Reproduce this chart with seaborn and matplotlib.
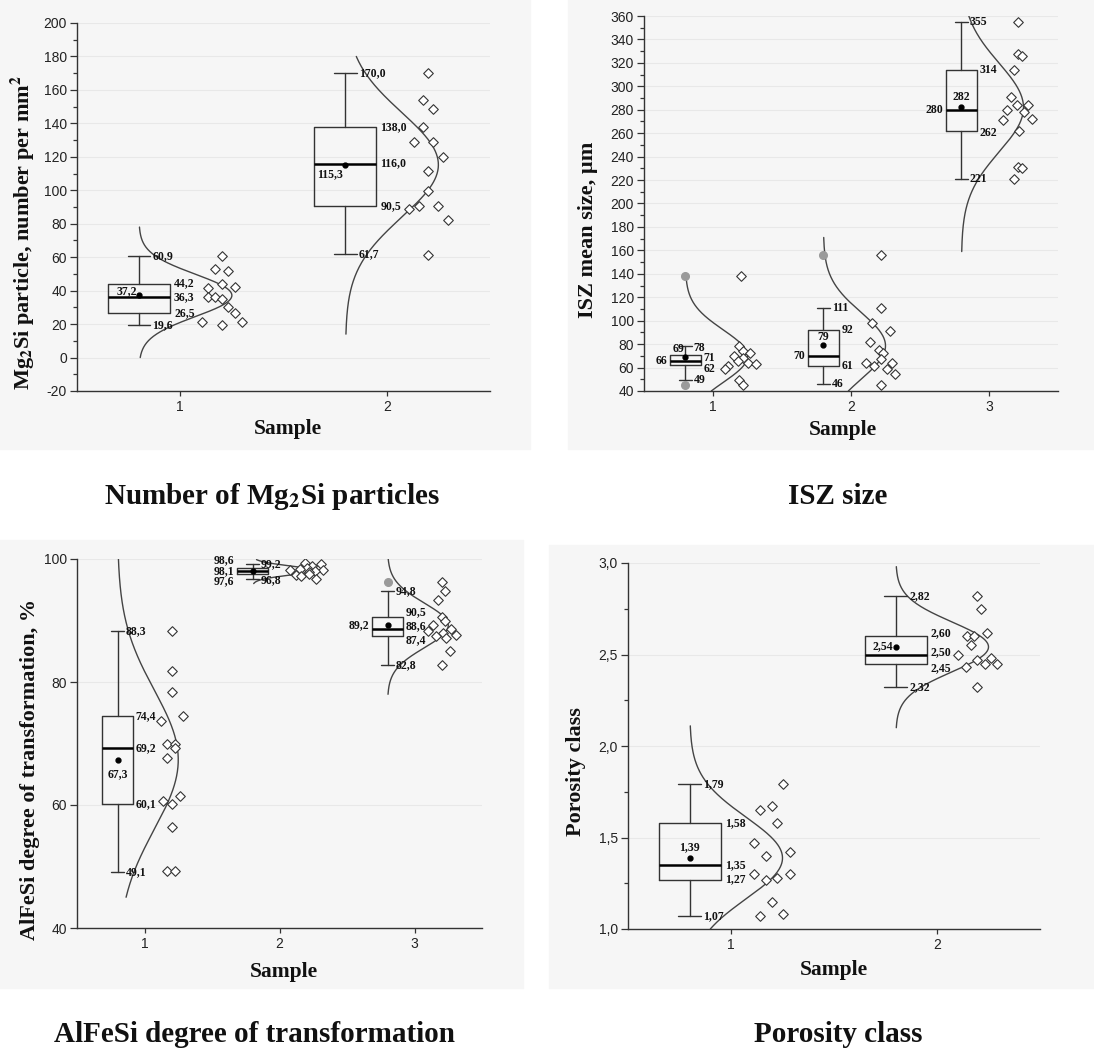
import numpy as np
import matplotlib
matplotlib.use("Agg")
import matplotlib.pyplot as plt
import seaborn as sns
from matplotlib.patches import Rectangle
from matplotlib.ticker import MultipleLocator, FuncFormatter

sns.set_theme(style="white")
plt.rcParams["font.family"] = ["Liberation Sans", "DejaVu Sans"]
plt.rcParams["mathtext.fontset"] = "stix"
SERIF = ["Liberation Serif", "DejaVu Serif"]

# ---------------- data ----------------
# Mg2Si particles
mg_samples = [1, 2]
mg_points = [
    [60.9, 53.1, 51.7, 43.9, 42.3, 41.4, 36.2, 36.2, 35.2, 30.4, 26.4, 21.5, 21.5, 19.5],
    [170.0, 154.1, 148.7, 137.8, 129.0, 129.0, 119.9, 111.7, 99.6, 90.5, 90.5, 88.7, 82.1, 61.6],
]
mg_jitter = [
    [0.20, 0.167, 0.233, 0.20, 0.266, 0.134, 0.134, 0.167, 0.20, 0.233, 0.266, 0.103, 0.298, 0.20],
    [0.20, 0.177, 0.225, 0.177, 0.131, 0.225, 0.27, 0.20, 0.20, 0.248, 0.156, 0.11, 0.295, 0.20],
]
mg_whislo = [19.6, 61.7]
mg_q1 = [26.5, 90.5]
mg_med = [36.3, 116.0]
mg_q3 = [44.2, 138.0]
mg_whishi = [60.9, 170.0]
mg_mean = [37.2, 115.3]
mg_outliers = [[], []]
mg_curve = [(0, 78), (14, 180)]

# ISZ size
isz_samples = [1, 2, 3]
isz_points = [
    [138, 78, 74, 72, 70, 68, 66, 64, 63, 61, 59, 49, 45],
    [156, 111, 98, 91.5, 81.4, 75.1, 72.2, 67.3, 63.6, 63.6, 61.6, 58.7, 54.4, 45.5],
    [355, 327.6, 326.1, 314.3, 291.2, 284, 284, 280.2, 278.2, 272.4, 271.5, 261.7, 231.1, 230, 221],
]
isz_jitter = [
    [0.20, 0.19, 0.22, 0.27, 0.15, 0.22, 0.18, 0.25, 0.31, 0.11, 0.09, 0.19, 0.22],
    [0.22, 0.22, 0.15, 0.28, 0.14, 0.20, 0.235, 0.215, 0.11, 0.30, 0.17, 0.26, 0.32, 0.22],
    [0.21, 0.21, 0.24, 0.18, 0.16, 0.20, 0.28, 0.13, 0.25, 0.31, 0.10, 0.22, 0.21, 0.24, 0.18],
]
isz_whislo = [49, 46, 221]
isz_q1 = [62, 61, 262]
isz_med = [66, 70, 280]
isz_q3 = [71, 92, 314]
isz_whishi = [78, 111, 355]
isz_mean = [69, 79, 282]
isz_outliers = [[138, 45], [156], []]
isz_curve = [(40, 138), (40, 171), (159, 360)]

# AlFeSi degree of transformation
af_samples = [1, 2, 3]
af_points = [
    [88.3, 81.8, 78.4, 74.5, 73.6, 70.0, 70.0, 69.2, 67.6, 61.4, 60.6, 60.2, 56.4, 49.2, 49.2],
    [99.3, 99.2, 98.9, 98.6, 98.4, 98.2, 98.2, 98.0, 97.9, 97.6, 97.4, 97.2, 96.8],
    [96.2, 94.8, 93.4, 90.5, 89.9, 89.2, 88.6, 88.3, 87.9, 87.6, 87.4, 87.2, 85.0, 82.8],
]
af_jitter = [
    [0.20, 0.20, 0.20, 0.285, 0.12, 0.17, 0.225, 0.225, 0.17, 0.26, 0.14, 0.20, 0.20, 0.17, 0.225],
    [0.19, 0.31, 0.24, 0.20, 0.15, 0.08, 0.32, 0.26, 0.22, 0.22, 0.12, 0.16, 0.27],
    [0.20, 0.225, 0.175, 0.20, 0.225, 0.14, 0.27, 0.10, 0.21, 0.305, 0.16, 0.23, 0.26, 0.20],
]
af_whislo = [49.1, 96.8, 82.8]
af_q1 = [60.1, 97.6, 87.4]
af_med = [69.2, 98.1, 88.6]
af_q3 = [74.4, 98.6, 90.5]
af_whishi = [88.3, 99.2, 94.8]
af_mean = [67.3, 98.1, 89.2]
af_outliers = [[], [], [96.2]]
af_curve = [(45, 100), (96.0, 99.9), (78, 100)]

# Porosity class
por_samples = [1, 2]
por_points = [
    [1.79, 1.65, 1.67, 1.58, 1.47, 1.40, 1.42, 1.30, 1.30, 1.27, 1.28, 1.15, 1.07, 1.08],
    [2.82, 2.75, 2.62, 2.60, 2.60, 2.55, 2.50, 2.48, 2.47, 2.45, 2.45, 2.43, 2.32],
]
por_jitter = [
    [0.254, 0.14, 0.197, 0.225, 0.11, 0.168, 0.284, 0.11, 0.284, 0.168, 0.225, 0.197, 0.14, 0.254],
    [0.193, 0.213, 0.244, 0.146, 0.18, 0.163, 0.104, 0.26, 0.193, 0.235, 0.291, 0.14, 0.193],
]
por_whislo = [1.07, 2.32]
por_q1 = [1.27, 2.45]
por_med = [1.35, 2.50]
por_q3 = [1.58, 2.60]
por_whishi = [1.79, 2.82]
por_mean = [1.39, 2.54]
por_outliers = [[], []]
por_curve = [(1.0, 2.11), (2.10, 2.98)]

# ---------------- figure ----------------
W, H = 1094, 1055
fig = plt.figure(figsize=(W / 100, H / 100), dpi=100)
fig.patch.set_facecolor("white")


def px_axes(x0, x1, y0, y1):
    return fig.add_axes([x0 / W, 1 - y1 / H, (x1 - x0) / W, (y1 - y0) / H])


# light grey panel backgrounds
for x0, x1, y0, y1 in [(0, 530, 0, 449), (568, 1094, 0, 449), (0, 523, 540, 988), (549, 1094, 545, 988)]:
    fig.add_artist(Rectangle((x0 / W, 1 - y1 / H), (x1 - x0) / W, (y1 - y0) / H,
                             transform=fig.transFigure, color="#f6f6f6", zorder=-5))


def fmt(v, nd):
    return f"{v:.{nd}f}".replace(".", ",")


def note(ax, x, y, v, nd, ha="left"):
    ax.text(x, y, fmt(v, nd), ha=ha, va="center", fontsize=8.5, fontweight="bold",
            family=SERIF, color="#111", zorder=6)


def draw_panel(ax, samples, points, jitter, lo, q1, med, q3, hi, means, outliers, curve, box_w, cap_w):
    for i, s in enumerate(samples):
        base = s - 0.2
        stats = [dict(whislo=lo[i], q1=q1[i], med=med[i], q3=q3[i], whishi=hi[i],
                      mean=means[i], fliers=outliers[i])]
        ax.bxp(stats, positions=[base], widths=box_w, capwidths=[cap_w], showmeans=True,
               boxprops=dict(color="#333", lw=1.0),
               whiskerprops=dict(color="#333", lw=1.0),
               capprops=dict(color="#333", lw=1.0),
               medianprops=dict(color="black", lw=1.8),
               meanprops=dict(marker="o", mfc="black", mec="black", ms=3.5),
               flierprops=dict(marker="o", mfc="#9a9a9a", mec="#9a9a9a", ms=5.5),
               manage_ticks=False, zorder=4)
        # normal curve fitted to the sample points
        vals = np.asarray(points[i], dtype=float)
        mu, sd = vals.mean(), vals.std(ddof=1)
        yy = np.linspace(curve[i][0], curve[i][1], 300)
        xx = base + 0.45 * np.exp(-0.5 * ((yy - mu) / sd) ** 2)
        sns.lineplot(x=xx, y=yy, sort=False, estimator=None, color="#444", lw=1.0, ax=ax, zorder=2)
        sns.scatterplot(x=s + np.asarray(jitter[i]), y=vals, marker="D", s=24, color="white",
                        edgecolor="#333", linewidth=0.8, ax=ax, zorder=3)


def box_notes(ax, s, nd, vals, box_w, cap_w, dy=None, left=(), mean_spec=None):
    base = s - 0.2
    dy = dy or {}
    xr_box = base + box_w / 2 + 0.02
    xr_cap = base + cap_w / 2 + 0.01
    xl_box = base - box_w / 2 - 0.02
    for key in ["whishi", "q3", "med", "q1", "whislo"]:
        v = vals[key]
        y = v + dy.get(key, 0)
        if key in left:
            note(ax, xl_box, y, v, nd, ha="right")
        elif key in ("whishi", "whislo"):
            note(ax, xr_cap, y, v, nd)
        else:
            note(ax, xr_box, y, v, nd)
    if mean_spec is not None:
        ha, dx, dyy = mean_spec
        note(ax, base + dx, vals["mean"] + dyy, vals["mean"], nd, ha=ha)


def style(ax, samples, ylim, major, minor, yfmt, ylabel, ylab_xy, xlab_xy):
    ax.set_facecolor("none")
    ax.set_xlim(samples[0] - 0.5, samples[-1] + 0.5)
    ax.set_ylim(*ylim)
    ax.set_xticks(samples)
    ax.set_xticklabels([str(s) for s in samples])
    ax.yaxis.set_major_locator(MultipleLocator(major))
    if minor:
        ax.yaxis.set_minor_locator(MultipleLocator(minor))
    ax.yaxis.set_major_formatter(FuncFormatter(yfmt))
    for side in ["top", "right"]:
        ax.spines[side].set_visible(False)
    for side in ["left", "bottom"]:
        ax.spines[side].set_color("#333")
        ax.spines[side].set_linewidth(1.0)
    ax.tick_params(axis="y", which="major", direction="out", length=4.8, width=0.9, color="#333",
                   labelsize=10, labelcolor="#222", pad=2.5, left=True)
    ax.tick_params(axis="y", which="minor", direction="out", length=2.9, width=0.9, color="#333", left=True)
    ax.tick_params(axis="x", direction="out", length=3.6, width=0.9, color="#333",
                   labelsize=10, labelcolor="#222", pad=3, bottom=True)
    ax.grid(axis="y", which="major", color="#e8e8e8", lw=0.8)
    ax.set_axisbelow(True)
    ax.set_ylabel(ylabel, fontsize=16, fontweight="bold", family=SERIF, color="#111")
    ax.yaxis.set_label_coords(*ylab_xy)
    ax.yaxis.label.set_va("center")
    ax.set_xlabel("Sample", fontsize=15.5, fontweight="bold", family=SERIF, color="#111")
    ax.xaxis.set_label_coords(*xlab_xy)
    ax.xaxis.label.set_va("center")


def stat(lo, q1, med, q3, hi, mean, i):
    return dict(whislo=lo[i], q1=q1[i], med=med[i], q3=q3[i], whishi=hi[i], mean=mean[i])


int_fmt = lambda v, p: f"{v:.0f}"
dec_fmt = lambda v, p: f"{v:.1f}".replace(".", ",")

# ---- panel 1: Mg2Si particles ----
ax1 = px_axes(77, 490, 23, 391)
draw_panel(ax1, mg_samples, mg_points, mg_jitter, mg_whislo, mg_q1, mg_med, mg_q3, mg_whishi,
           mg_mean, mg_outliers, mg_curve, 0.30, 0.11)
style(ax1, mg_samples, (-20, 200), 20, 10, int_fmt,
      r"Mg$_\mathbf{2}$Si particle, number per mm$^\mathbf{2}$", (-0.132, 0.43), (0.51, -0.103))
mean_specs = [("right", -0.01, 2.6), ("right", -0.012, -5.5)]
for i, s in enumerate(mg_samples):
    box_notes(ax1, s, 1, stat(mg_whislo, mg_q1, mg_med, mg_q3, mg_whishi, mg_mean, i), 0.30, 0.11,
              mean_spec=mean_specs[i])

# ---- panel 2: ISZ size ----
ax2 = px_axes(644, 1058, 16, 391)
draw_panel(ax2, isz_samples, isz_points, isz_jitter, isz_whislo, isz_q1, isz_med, isz_q3, isz_whishi,
           isz_mean, isz_outliers, isz_curve, 0.225, 0.10)
style(ax2, isz_samples, (40, 360), 20, 10, int_fmt, "ISZ mean size, µm", (-0.135, 0.43), (0.48, -0.103))
isz_notes = [
    dict(dy={"q3": -2.5, "q1": -3.5, "whishi": -1}, left=("med",), mean_spec=("right", -0.01, 7)),
    dict(dy={}, left=("med",), mean_spec=("center", 0, 7)),
    dict(dy={"q1": -2}, left=("med",), mean_spec=("center", 0, 9)),
]
for i, s in enumerate(isz_samples):
    box_notes(ax2, s, 0, stat(isz_whislo, isz_q1, isz_med, isz_q3, isz_whishi, isz_mean, i), 0.225, 0.10,
              **isz_notes[i])

# ---- panel 3: AlFeSi ----
ax3 = px_axes(77, 482, 559, 928)
draw_panel(ax3, af_samples, af_points, af_jitter, af_whislo, af_q1, af_med, af_q3, af_whishi,
           af_mean, af_outliers, af_curve, 0.225, 0.10)
style(ax3, af_samples, (40, 100), 20, None, int_fmt, "AlFeSi degree of transformation, %",
      (-0.117, 0.43), (0.51, -0.12))
af_notes = [
    dict(dy={}, left=(), mean_spec=("center", 0, -2.3)),
    dict(dy={"q3": 1.2, "q1": -1.2, "whislo": -0.2}, left=("q3", "med", "q1"), mean_spec=None),
    dict(dy={"q3": 0.8, "med": 0.4, "q1": -0.6}, left=(), mean_spec=("right", -0.225 / 2 - 0.02, 0)),
]
for i, s in enumerate(af_samples):
    box_notes(ax3, s, 1, stat(af_whislo, af_q1, af_med, af_q3, af_whishi, af_mean, i), 0.225, 0.10,
              **af_notes[i])

# ---- panel 4: Porosity ----
ax4 = px_axes(628, 1040, 563, 929)
draw_panel(ax4, por_samples, por_points, por_jitter, por_whislo, por_q1, por_med, por_q3, por_whishi,
           por_mean, por_outliers, por_curve, 0.30, 0.11)
style(ax4, por_samples, (1.0, 3.0), 0.5, 0.25, dec_fmt, "Porosity class", (-0.126, 0.43), (0.5, -0.112))
por_notes = [
    dict(dy={}, mean_spec=("center", 0, 0.055)),
    dict(dy={"q3": 0.015, "med": 0.012, "q1": -0.022}, mean_spec=("right", -0.012, 0.005)),
]
for i, s in enumerate(por_samples):
    box_notes(ax4, s, 2, stat(por_whislo, por_q1, por_med, por_q3, por_whishi, por_mean, i), 0.30, 0.11,
              **por_notes[i])

# ---- captions ----
cap_kw = dict(fontsize=21, fontweight="bold", family=SERIF, ha="center", va="center", color="#111")
fig.text(272 / W, 1 - 497 / H, r"Number of Mg$_\mathbf{2}$Si particles", **cap_kw)
fig.text(838 / W, 1 - 497 / H, "ISZ size", **cap_kw)
fig.text(255 / W, 1 - 1035 / H, "AlFeSi degree of transformation", **cap_kw)
fig.text(838 / W, 1 - 1035 / H, "Porosity class", **cap_kw)

fig.savefig("out.png", dpi=100, facecolor="white")
